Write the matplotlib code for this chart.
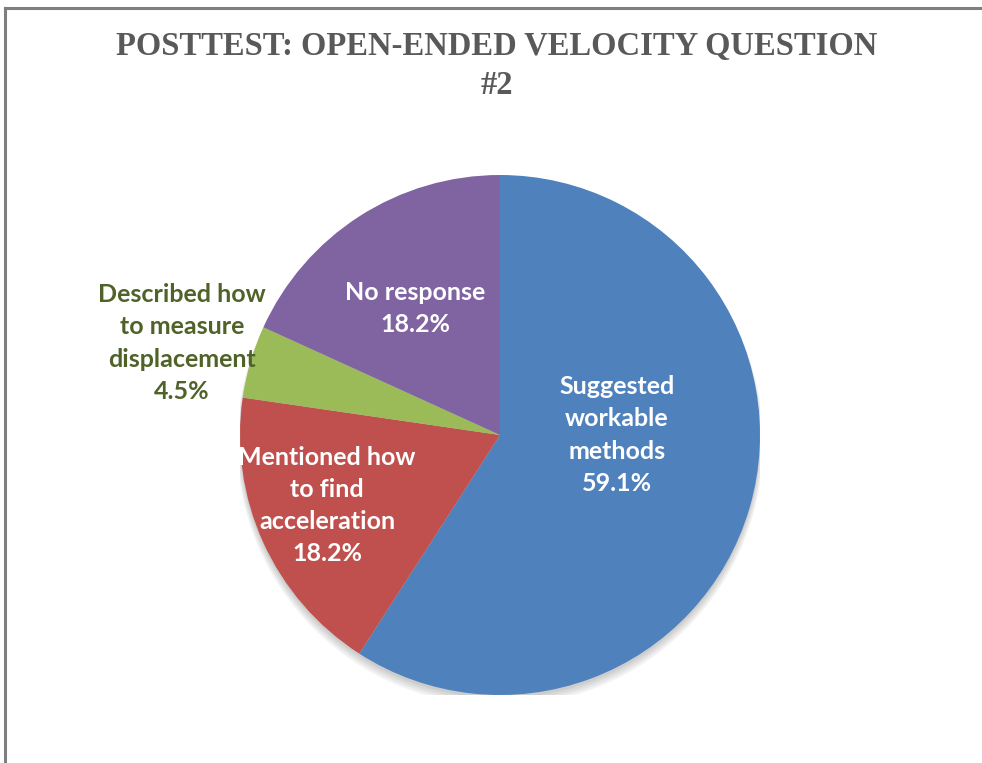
import matplotlib.pyplot as plt
from matplotlib.lines import Line2D
from matplotlib.patches import Circle

# data
labels = ['Suggested\nworkable\nmethods', 'Mentioned how\nto find\nacceleration',
          'Described how\nto measure\ndisplacement', 'No response']
values = [59.1, 18.2, 4.5, 18.2]
colors = ['#4F81BD', '#C0504D', '#9BBB59', '#8064A2']
label_colors = ['white', 'white', '#4F6228', 'white']
label_pos = [(0.45, 0.0), (-0.665, -0.27), (-1.223, 0.354), (-0.327, 0.488)]

W, H = 982, 763
fig = plt.figure(figsize=(W / 100, H / 100), dpi=100)

# pie axes: centre (500, 435) px from top, radius 260 px
cx, cy, r = 500, 435, 260
ax = fig.add_axes([(cx - r) / W, (H - cy - r) / H, 2 * r / W, 2 * r / H])

# soft shadow under the pie
for k in range(4):
    ax.add_patch(Circle((0, -0.012 - 0.006 * k), 1.0 + 0.004 * k, color='black',
                        alpha=0.05, lw=0, zorder=0))

ax.pie(values, colors=colors, startangle=90, counterclock=False, radius=1.0,
       wedgeprops=dict(linewidth=0), frame=False)
ax.set_xlim(-1, 1)
ax.set_ylim(-1, 1)
ax.set_aspect('equal')
ax.axis('off')

for lab, v, c, (x, y) in zip(labels, values, label_colors, label_pos):
    ax.text(x, y, '{}\n{:.1f}%'.format(lab, v), ha='center', va='center',
            color=c, fontsize=18, fontweight='bold', family='Lato',
            linespacing=1.48, clip_on=False)

fig.text(497 / W, 1 - 47 / H, 'POSTTEST: OPEN-ENDED VELOCITY QUESTION',
         ha='center', va='center', fontsize=23.5, fontweight='bold',
         family='Liberation Serif', color='#595959')
fig.text(497 / W, 1 - 85 / H, '#2', ha='center', va='center', fontsize=23.5,
         fontweight='bold', family='Liberation Serif', color='#595959')

# frame lines (top and left)
fig.add_artist(Line2D([5 / W, 1], [1 - 7.5 / H, 1 - 7.5 / H], color='#7F7F7F', lw=2.2,
                      transform=fig.transFigure))
fig.add_artist(Line2D([5 / W, 5 / W], [0, 1 - 7.5 / H], color='#7F7F7F', lw=2.2,
                      transform=fig.transFigure))

fig.savefig('out.png', dpi=100)
